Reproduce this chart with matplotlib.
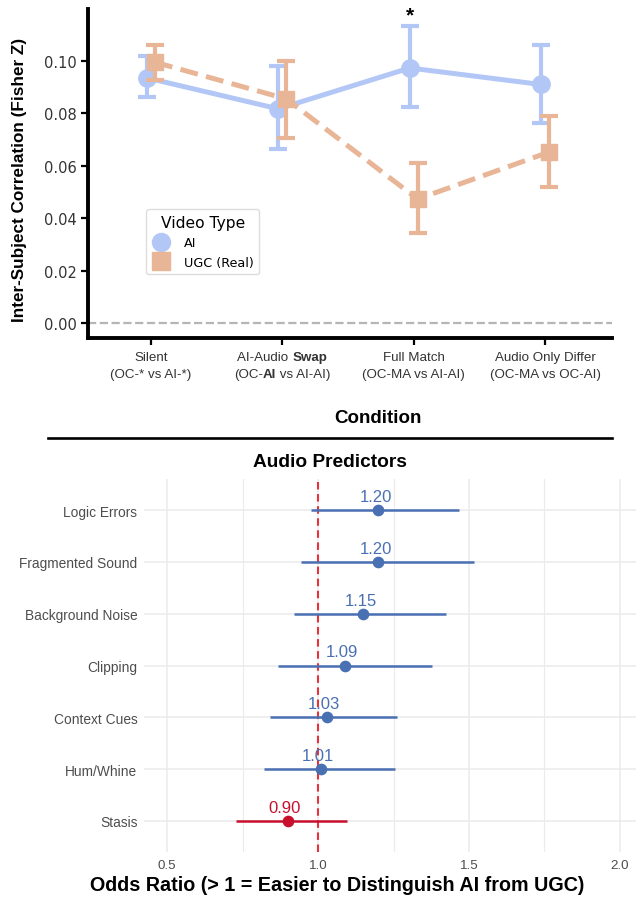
import matplotlib
matplotlib.use("Agg")
import matplotlib.pyplot as plt
from matplotlib.lines import Line2D
from matplotlib.ticker import FormatStrFormatter
from matplotlib.offsetbox import TextArea, HPacker, VPacker, AnnotationBbox
import numpy as np

plt.rcParams['font.family'] = ['Liberation Sans', 'DejaVu Sans']

# ---------------- data ----------------
# each tick label: list of lines, each line a list of (text, bold) pieces
conditions = [
    [[("Silent", False)], [("(OC-* vs AI-*)", False)]],
    [[("AI-Audio ", False), ("Swap", True)], [("(OC-", False), ("AI", True), (" vs AI-AI)", False)]],
    [[("Full Match", False)], [("(OC-MA vs AI-AI)", False)]],
    [[("Audio Only Differ", False)], [("(OC-MA vs OC-AI)", False)]],
]
ai_mean = [0.0935, 0.0817, 0.0973, 0.0910]
ai_lo = [0.0862, 0.0664, 0.0824, 0.0763]
ai_hi = [0.1020, 0.0980, 0.1134, 0.1060]
ugc_mean = [0.0995, 0.0855, 0.0473, 0.0652]
ugc_lo = [0.0927, 0.0706, 0.0343, 0.0518]
ugc_hi = [0.1062, 0.0998, 0.0610, 0.0790]
series_names = ["AI", "UGC (Real)"]
y_ticks_top = [0.00, 0.02, 0.04, 0.06, 0.08, 0.10]

predictors = ["Logic Errors", "Fragmented Sound", "Background Noise",
              "Clipping", "Context Cues", "Hum/Whine", "Stasis"]
odds = [1.20, 1.20, 1.15, 1.09, 1.03, 1.01, 0.90]
ci_lo = [0.977, 0.944, 0.920, 0.868, 0.841, 0.821, 0.730]
ci_hi = [1.467, 1.517, 1.424, 1.377, 1.262, 1.254, 1.097]
x_ticks_bottom = [0.5, 1.0, 1.5, 2.0]

# ---------------- figure ----------------
W, H = 636, 904
fig = plt.figure(figsize=(W / 100, H / 100), dpi=100)

def rect(l, t, r, b):
    return [l / W, 1 - b / H, (r - l) / W, (b - t) / H]

AI_COL = "#b3c7f7"
UGC_COL = "#e8b596"

ax = fig.add_axes(rect(88, 10, 612, 339))
x = np.arange(len(conditions))
dodge = 0.03
xa = x - dodge
xu = x + dodge

ax.axhline(0, color="#b5b5b5", lw=1.6, ls="--", dashes=(3.7, 1.6), zorder=1)

ai_err = [np.array(ai_mean) - np.array(ai_lo), np.array(ai_hi) - np.array(ai_mean)]
ugc_err = [np.array(ugc_mean) - np.array(ugc_lo), np.array(ugc_hi) - np.array(ugc_mean)]

ax.plot(xa, ai_mean, color=AI_COL, lw=3.6, solid_capstyle='round', zorder=2)
ax.errorbar(xa, ai_mean, yerr=ai_err, fmt='none', ecolor=AI_COL, elinewidth=3,
            capsize=6.5, capthick=3, zorder=2)
ax.plot(xa, ai_mean, 'o', color=AI_COL, ms=12.5, zorder=3)

ax.plot(xu, ugc_mean, color=UGC_COL, lw=3.6, ls='--', dashes=(3.6, 1.7), zorder=4)
ax.errorbar(xu, ugc_mean, yerr=ugc_err, fmt='none', ecolor=UGC_COL, elinewidth=3,
            capsize=6.5, capthick=3, zorder=4)
ax.plot(xu, ugc_mean, 's', color=UGC_COL, ms=12, zorder=5)

ax.text(xa[2], 0.1175, "*", ha='center', va='center', fontsize=15,
        fontweight='bold', clip_on=False)

ax.set_xlim(-0.48, 3.51)
ax.set_ylim(-0.0057, 0.1198)
ax.set_xticks(x)
ax.set_xticklabels([""] * len(conditions))
ax.set_yticks(y_ticks_top)
ax.yaxis.set_major_formatter(FormatStrFormatter('%.2f'))
for lab in ax.get_yticklabels():
    lab.set_fontfamily('DejaVu Sans')
    lab.set_fontsize(10.5)
    lab.set_color("#333333")
ax.tick_params(axis='both', direction='out', length=5, width=1.6, color='black')
ax.tick_params(axis='y', pad=3)
for s in ['top', 'right']:
    ax.spines[s].set_visible(False)
for s in ['left', 'bottom']:
    ax.spines[s].set_linewidth(2.8)
    ax.spines[s].set_color('black')

# rich (partly bold) x tick labels
TICK_FS = 9.6
for xi, lines in zip(x, conditions):
    rows = []
    for line in lines:
        pieces = [TextArea(t, textprops=dict(fontsize=TICK_FS, color="#333333",
                                             fontweight='bold' if b else 'normal'))
                  for t, b in line]
        rows.append(HPacker(children=pieces, sep=0, pad=0, align='baseline'))
    box = VPacker(children=rows, sep=3.2, pad=0, align='center')
    ab = AnnotationBbox(box, (xi, 0), xycoords=ax.get_xaxis_transform(),
                        xybox=(0, -9.5), boxcoords='offset points',
                        box_alignment=(0.5, 1.0), frameon=False, pad=0,
                        annotation_clip=False)
    ax.add_artist(ab)

ax.set_ylabel("Inter-Subject Correlation (Fisher Z)", fontsize=12.3, fontweight='bold')
ax.yaxis.set_label_coords(-0.116, 0.483)
ax.set_xlabel("Condition", fontsize=13.5, fontweight='bold')
ax.xaxis.set_label_coords(0.553, -0.215)

handles = [Line2D([], [], ls='none', marker='o', ms=13, color=AI_COL),
           Line2D([], [], ls='none', marker='s', ms=13, color=UGC_COL)]
leg = ax.legend(handles, series_names, title="Video Type", loc='upper left',
                bbox_to_anchor=(0.111, 0.392), borderaxespad=0,
                prop={'family': 'DejaVu Sans', 'size': 9.2},
                title_fontproperties={'family': 'DejaVu Sans', 'size': 11.2},
                frameon=True, handlelength=1.4, handletextpad=1.1,
                labelspacing=0.5, borderpad=0.45, framealpha=1)
leg.get_frame().set_edgecolor("#dddddd")
leg.get_frame().set_linewidth(1.0)

# separator line
fig.add_artist(Line2D([48 / W, 612 / W], [1 - 439 / H, 1 - 439 / H],
                      transform=fig.transFigure, color='black', lw=1.9))

# ---------------- bottom panel ----------------
BLUE = "#4a70b4"
RED = "#c8102e"
bx = fig.add_axes(rect(144.4, 480, 642.6, 853))
yy = np.arange(len(predictors))
bx.set_xlim(0.425, 2.075)
bx.set_ylim(len(predictors) - 1 + 0.6, -0.6)
bx.set_xticks(x_ticks_bottom)
bx.set_xticks([0.75, 1.25, 1.75], minor=True)
bx.set_yticks(yy)
bx.set_yticklabels(predictors, fontsize=9.9, color="#4d4d4d")
bx.set_xticklabels([f"{v:.1f}" for v in x_ticks_bottom], fontsize=9.6, color="#4d4d4d")
bx.tick_params(axis='both', which='both', length=0)
bx.tick_params(axis='y', pad=5)
bx.tick_params(axis='x', pad=5)
bx.grid(True, which='major', color="#ebebeb", lw=1.1)
bx.grid(True, which='minor', axis='x', color="#ebebeb", lw=0.8)
bx.set_axisbelow(True)
for s in bx.spines.values():
    s.set_visible(False)

bx.axvline(1.0, color="#e5323b", lw=1.5, ls='--', dashes=(3.6, 2.2), zorder=2)
for i, (v, lo, hi) in enumerate(zip(odds, ci_lo, ci_hi)):
    c = RED if v < 1 else BLUE
    bx.plot([lo, hi], [i, i], color=c, lw=1.8, solid_capstyle='butt', zorder=3)
    bx.plot(v, i, 'o', color=c, ms=7.4, zorder=4)
    bx.annotate(f"{v:.2f}", (v, i), xytext=(-2, 6.5), textcoords='offset points',
                ha='center', va='baseline', fontsize=12, color=c, zorder=5)

bx.set_xlabel("Odds Ratio (> 1 = Easier to Distinguish AI from UGC)",
              fontsize=14.2, fontweight='bold')
bx.xaxis.set_label_coords((337 - 144.4) / (642.6 - 144.4), -0.063)
fig.text(330 / W, 1 - 463 / H, "Audio Predictors", ha='center', va='center',
         fontsize=13.8, fontweight='bold')

fig.savefig("out.png", dpi=100)
